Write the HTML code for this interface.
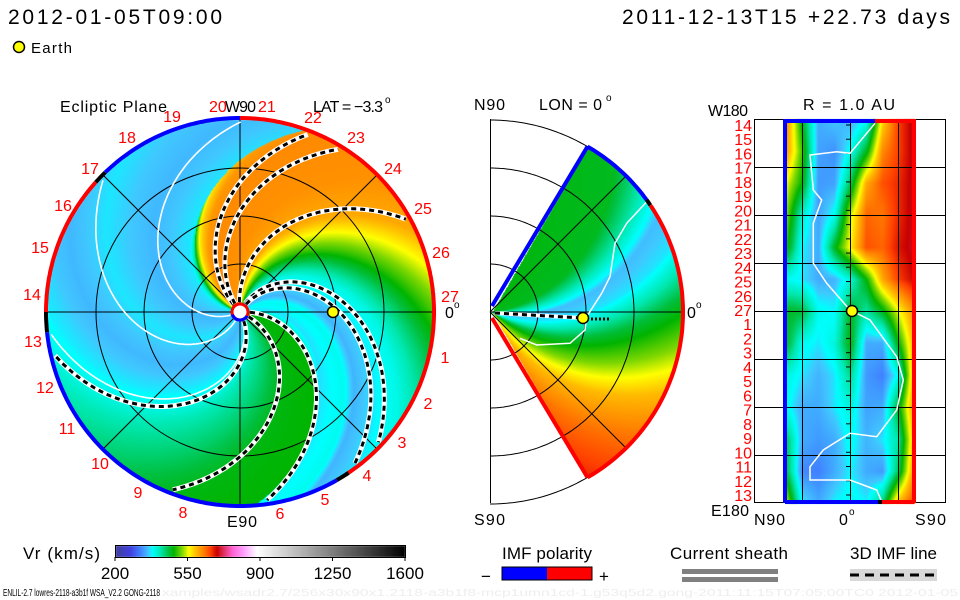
<!DOCTYPE html>
<html><head><meta charset="utf-8">
<style>
body{margin:0;background:#fff;width:960px;height:600px;overflow:hidden;position:relative}
canvas,svg{position:absolute;left:0;top:0}
text{font-family:"Liberation Sans",sans-serif}
</style></head>
<body>
<canvas id="cv" width="960" height="600"></canvas>
<svg id="ov" width="960" height="600" xmlns="http://www.w3.org/2000/svg">
  <text x="8" y="24" font-size="21" textLength="214">2012-01-05T09:00</text>
  <text x="950" y="24" font-size="21" text-anchor="end" textLength="328">2011-12-13T15 +22.73 days</text>
  <circle cx="19" cy="47" r="5.5" fill="#ffff00" stroke="#000" stroke-width="1.5"/>
  <text x="31" y="53" font-size="15" textLength="41">Earth</text>

  <text x="60" y="112" font-size="16" textLength="107">Ecliptic Plane</text>
  <text x="209" y="112" font-size="16" fill="#f00">20</text>
  <text x="225" y="112" font-size="16" textLength="31">W90</text>
  <text x="258" y="112" font-size="16" fill="#f00">21</text>
  <text x="313" y="112" font-size="16" textLength="70">LAT = −3.3</text>
  <text x="385" y="103" font-size="10">o</text>
  <text x="445" y="318" font-size="16">0</text>
  <text x="454" y="308" font-size="10">o</text>
  <text x="227" y="527" font-size="16" textLength="30">E90</text>

  <text x="474" y="110" font-size="16" textLength="31">N90</text>
  <text x="539" y="110" font-size="16" textLength="63">LON = 0</text>
  <text x="606" y="101" font-size="10">o</text>
  <text x="474" y="525" font-size="16" textLength="31">S90</text>
  <text x="687" y="318" font-size="16">0</text>
  <text x="696" y="308" font-size="10">o</text>

  <text x="708" y="116" font-size="16" textLength="40">W180</text>
  <text x="803" y="110" font-size="16" textLength="92">R = 1.0 AU</text>
  <text x="711" y="516" font-size="16" textLength="38">E180</text>
  <text x="754" y="525" font-size="16" textLength="31">N90</text>
  <text x="839" y="525" font-size="16">0</text>
  <text x="849" y="515" font-size="10">o</text>
  <text x="915" y="525" font-size="16" textLength="31">S90</text>

  <text x="23" y="559" font-size="17" textLength="77">Vr (km/s)</text>
  <rect x="115.5" y="545.5" width="290" height="12" fill="none" stroke="#000"/>
  <text x="502" y="559" font-size="17" textLength="90">IMF polarity</text>
  <text x="481" y="582" font-size="17">−</text>
  <rect x="502" y="567" width="45" height="13" fill="#0000ff"/>
  <rect x="547" y="567" width="45" height="13" fill="#ff0000"/>
  <rect x="502" y="567" width="90" height="13" fill="none" stroke="#000"/>
  <text x="599" y="582" font-size="17">+</text>
  <text x="670" y="559" font-size="17" textLength="118">Current sheath</text>
  <rect x="682" y="569" width="96" height="5" fill="#808080"/>
  <rect x="682" y="577" width="96" height="5" fill="#808080"/>
  <text x="850" y="559" font-size="17" textLength="87">3D IMF line</text>
  <rect x="850" y="569" width="87" height="12" fill="#d8d8d8"/>
  <line x1="850" y1="575" x2="937" y2="575" stroke="#000" stroke-width="3" stroke-dasharray="9 6"/>
  <text x="3" y="596" font-size="10" textLength="157" lengthAdjust="spacingAndGlyphs">ENLIL-2.7 lowres-2118-a3b1f WSA_V2.2 GONG-2118</text>
  <text x="162" y="596" font-size="10" fill="#eeeeee" textLength="796" lengthAdjust="spacingAndGlyphs">xamples/wsadr2.7/256x30x90x1.2118-a3b1f8-mcp1umn1cd-1.g53q5d2.gong-2011:11:15T07:05:00TC0    2012-01-05</text>
</svg>
<script>
// ---------- data ----------
const cbSpeeds=[200,272,320,361,377,417,457,482,522,554,586,626,659,690,723,763,819,884,1600];
const cbColors=['#404098','#4040e0','#4080ff','#40c8ff','#00ffff','#00e8b0','#00c040','#00b400','#80d800','#ffff00','#ffc000','#ff8000','#ff4000','#c80000','#e03060','#ff60d0','#ffa0ff','#ffffff','#000000'];
const cbTicks=[200,550,900,1250,1600];
// ecliptic: solar-wind speed by source longitude (deg)
const srcLon=[-180,-150,-120,-90,-70,-62,-55,-40,-30,-22,-10,5,10,20,35,50,62,70,76,82,88,94,110,135,142,150,158,166,175,180];
const srcSpeed=[368,352,370,352,372,390,415,440,460,475,480,482,400,368,385,350,378,390,440,500,550,600,615,620,610,570,500,420,370,368];
const sheathLon=[135,125,97,64,58,3,-24,-62];
const whiteLon=[205,-112,-66];
// meridional slice: speed vs effective latitude
const latEff=[-90,-75,-60,-45,-30,-15,0,10,20,30,90];
const latSpeed=[690,660,630,590,520,460,370,355,420,470,480];
// 1 AU lat-lon map: rows lon 180..-180 step 30, cols lat N60..S60 step 15
const mapLat=[60,45,30,15,0,-15,-30,-45,-60];
const mapLon=[180,150,120,90,60,30,0,-30,-60,-90,-120,-150,-180];
const mapSpeed=[
[620,470,345,360,345,375,570,660,700],
[610,500,340,330,385,470,620,660,700],
[550,480,335,340,450,600,650,670,700],
[520,400,340,385,540,640,630,670,700],
[490,375,345,470,560,650,640,680,700],
[385,370,345,350,395,480,600,660,690],
[470,460,385,375,470,420,470,550,620],
[470,385,370,395,480,345,345,480,600],
[395,370,350,370,430,335,320,385,610],
[385,345,345,370,395,340,345,470,620],
[450,345,335,345,385,350,370,420,600],
[460,325,320,345,375,345,335,450,620],
[540,375,345,375,385,375,440,600,660]];
const earth={lonDeg:0,rAU:1.0};

// ---------- helpers ----------
const rgb=cbColors.map(h=>[parseInt(h.slice(1,3),16),parseInt(h.slice(3,5),16),parseInt(h.slice(5,7),16)]);
function colorFor(v){
  if(v<=cbSpeeds[0])return rgb[0];
  for(let i=1;i<cbSpeeds.length;i++){if(v<=cbSpeeds[i]){const t=(v-cbSpeeds[i-1])/(cbSpeeds[i]-cbSpeeds[i-1]);const a=rgb[i-1],b=rgb[i];return [a[0]+(b[0]-a[0])*t,a[1]+(b[1]-a[1])*t,a[2]+(b[2]-a[2])*t];}}
  return rgb[rgb.length-1];
}
function interp(xs,ys,x){
  if(x<=xs[0])return ys[0];
  for(let i=1;i<xs.length;i++){if(x<=xs[i]){const t=(x-xs[i-1])/(xs[i]-xs[i-1]);return ys[i-1]+(ys[i]-ys[i-1])*t;}}
  return ys[ys.length-1];
}
function vAt(psi){let p=((psi+180)%360+360)%360-180;return interp(srcLon,srcSpeed,p);}
const C=215;
const ECX=240,ECY=312,ER=193,AU=96;
const MCX=492,MCY=312,MR=190;
const cv=document.getElementById('cv');const ctx=cv.getContext('2d');
const img=ctx.createImageData(960,600);const D=img.data;
for(let i=0;i<D.length;i+=4){D[i]=D[i+1]=D[i+2]=255;D[i+3]=255;}
function put(x,y,c){const i=(y*960+x)*4;D[i]=c[0];D[i+1]=c[1];D[i+2]=c[2];}
for(let y=ECY-ER;y<=ECY+ER;y++)for(let x=ECX-ER;x<=ECX+ER;x++){
  const dx=x-ECX,dy=ECY-y,r=Math.hypot(dx,dy);if(r>ER||r<9)continue;
  const phi=Math.atan2(dy,dx)*180/Math.PI;
  let lo=phi+C*r/700,hi=phi+C*r/330;
  for(let k=0;k<16;k++){const m=(lo+hi)/2;const g=m-phi-C*r/vAt(m);if(g<0)lo=m;else hi=m;}
  put(x,y,colorFor(vAt((lo+hi)/2)));
}
for(let y=MCY-MR;y<=MCY+MR;y++)for(let x=MCX;x<=MCX+MR;x++){
  const dx=x-MCX,dy=MCY-y,r=Math.hypot(dx,dy);if(r>MR)continue;
  const th=Math.atan2(dy,dx)*180/Math.PI;if(Math.abs(th)>60)continue;
  const te=th-(-20+40*r/MR);
  put(x,y,colorFor(interp(latEff,latSpeed,te)));
}
const MX0=786,MX1=914,MY0=119,MY1=503;
for(let y=MY0;y<=MY1;y++)for(let x=MX0;x<=MX1;x++){
  const gx=(x-MX0)/(MX1-MX0)*(mapLat.length-1),gy=(y-MY0)/(MY1-MY0)*(mapLon.length-1);
  const i0=Math.min(Math.floor(gx),mapLat.length-2),j0=Math.min(Math.floor(gy),mapLon.length-2);
  const tx=gx-i0,ty=gy-j0;
  const v=(mapSpeed[j0][i0]*(1-tx)+mapSpeed[j0][i0+1]*tx)*(1-ty)+(mapSpeed[j0+1][i0]*(1-tx)+mapSpeed[j0+1][i0+1]*tx)*ty;
  put(x,y,colorFor(v));
}
const cbX=s=>115+(s-200)/(1600-200)*290;
for(let x=116;x<405;x++){const s=200+(x-115)/290*1400;const c=colorFor(s);for(let y=546;y<557;y++)put(x,y,c);}
ctx.putImageData(img,0,0);

// ---------- overlay ----------
const NS='http://www.w3.org/2000/svg';const svg=document.getElementById('ov');
function el(tag,attrs){const e=document.createElementNS(NS,tag);for(const k in attrs)e.setAttribute(k,attrs[k]);svg.appendChild(e);return e;}
function polar(cx,cy,r,a){return [cx+r*Math.cos(a*Math.PI/180),cy-r*Math.sin(a*Math.PI/180)];}
function arcPath(cx,cy,r,a0,a1){let d='';for(let a=a0;a<=a1+1e-6;a+=1){const p=polar(cx,cy,r,Math.min(a,a1));d+=(d?'L':'M')+p[0].toFixed(1)+' '+p[1].toFixed(1);}return d;}

cbTicks.forEach(s=>{
  const t=el('line',{x1:cbX(s),y1:557,x2:cbX(s),y2:561,stroke:'#000'});
  
  
  const l=el('text',{x:cbX(s),y:579,'font-size':17,'text-anchor':'middle'});l.textContent=String(s);
  
  
});

[48,96,144].forEach(r=>{
  const c=el('circle',{cx:ECX,cy:ECY,r:r,fill:'none',stroke:'#000','stroke-width':1});
  
  
});
[0,45,90,135].forEach(a=>{
  const p=polar(ECX,ECY,ER,a),q=polar(ECX,ECY,ER,a+180);
  const l=el('line',{x1:p[0],y1:p[1],x2:q[0],y2:q[1],stroke:'#000','stroke-width':1});
  
  
});
function spiralPath(psi){const k=C/vAt(psi);let d='';for(let r=10;r<=ER-2;r+=2){const p=polar(ECX,ECY,r,psi-k*r);d+=(d?'L':'M')+p[0].toFixed(1)+' '+p[1].toFixed(1);}return d;}
whiteLon.forEach(psi=>{
  const p=el('path',{d:spiralPath(psi),fill:'none',stroke:'#fff','stroke-width':1.6});
  
  
});
sheathLon.forEach(psi=>{
  const w=el('path',{d:spiralPath(psi),fill:'none',stroke:'#fff','stroke-width':5});
  
  
  const b=el('path',{d:spiralPath(psi),fill:'none',stroke:'#000','stroke-width':3,'stroke-dasharray':'5 4'});
  
  
});
const rimSeg=[[-57,90,'#ff0000'],[90,134,'#0000ff'],[134,138,'#000'],[138,180,'#ff0000'],[180,186,'#000'],[186,300,'#0000ff'],[300,304,'#000']];
rimSeg.forEach(s=>{
  const p=el('path',{d:arcPath(ECX,ECY,ER+1,s[0],s[1]),fill:'none',stroke:s[2],'stroke-width':4});
  
  
});
const sr=el('circle',{cx:ECX,cy:ECY,r:8,fill:'#fff',stroke:'#ff0000','stroke-width':3});


const sb=el('path',{d:arcPath(ECX,ECY,8,200,330),fill:'none',stroke:'#0000ff','stroke-width':3});


const rimLabels=[['22',313,117],['23',356,137],['24',393,168],['25',423,208],['26',441,252],['27',450,296],['1',445,357],['2',428,403],['3',402,442],['4',367,475],['5',325,499],['6',280,513],['8',183,512],['9',138,492],['10',100,463],['11',67,428],['12',45,387],['13',33,341],['14',32,294],['15',40,247],['16',63,205],['17',90,168],['18',127,137],['19',172,116]];
rimLabels.forEach(L=>{
  const t=el('text',{x:L[1],y:L[2]+6,'font-size':16,fill:'#f00','text-anchor':'middle'});t.textContent=L[0];
  
  
});
const ep=polar(ECX,ECY,earth.rAU*AU-3,earth.lonDeg);
const e1=el('circle',{cx:ep[0],cy:ep[1],r:5.5,fill:'#ffff00',stroke:'#000','stroke-width':1.5});



const ml=el('line',{x1:490.5,y1:119,x2:490.5,y2:503,stroke:'#000'});


[48,96,144,192].forEach(r=>{
  const p=el('path',{d:arcPath(490,MCY,r,-90,90),fill:'none',stroke:'#000'});
  
  
});
[45,0,-45].forEach(a=>{
  const q=polar(490,MCY,192,a);
  const l=el('line',{x1:490,y1:MCY,x2:q[0],y2:q[1],stroke:'#000'});
  
  
});
const mpts=[[530,335],[470,400],[435,460],[420,560],[395,610],[350,680],[345,720],[300,760],[200,765],[150,745]];
const mw=el('path',{d:mpts.map((p,i)=>(i?'L':'M')+(470+p[0]/3).toFixed(1)+' '+(90+p[1]/3).toFixed(1)).join(''),fill:'none',stroke:'#fff','stroke-width':1.5});


const mEdges=[[arcPath(MCX,MCY,MR+1,36,60),'#0000ff'],[arcPath(MCX,MCY,MR+1,34,36),'#000'],[arcPath(MCX,MCY,MR+1,-60,34),'#ff0000']];
mEdges.forEach(s=>{
  const p=el('path',{d:s[0],fill:'none',stroke:s[1],'stroke-width':4});
  
  
});
const tp=polar(MCX,MCY,MR+1,60),bp=polar(MCX,MCY,MR+1,-60);
const te=el('line',{x1:MCX,y1:MCY-6,x2:tp[0],y2:tp[1],stroke:'#0000ff','stroke-width':4});


const be=el('line',{x1:MCX,y1:MCY+6,x2:bp[0],y2:bp[1],stroke:'#ff0000','stroke-width':4});


const imf1=el('line',{x1:495,y1:313,x2:583,y2:318,stroke:'#fff','stroke-width':4});


const imf2=el('line',{x1:495,y1:313,x2:583,y2:318,stroke:'#000','stroke-width':3,'stroke-dasharray':'5 4'});


const imf3=el('line',{x1:583,y1:319,x2:610,y2:319,stroke:'#000','stroke-width':3,'stroke-dasharray':'2 2'});


const e2=el('circle',{cx:583,cy:318,r:5.5,fill:'#ffff00',stroke:'#000','stroke-width':1.5});



const fr=el('rect',{x:754.5,y:119.5,width:191,height:383,fill:'none',stroke:'#000'});


[802,850,898].forEach(x=>{
  const l=el('line',{x1:x+.5,y1:119,x2:x+.5,y2:503,stroke:'#000'});
  
  
});
[167,215,263,311,359,407,455].forEach(y=>{
  const l=el('line',{x1:754,y1:y+.5,x2:946,y2:y+.5,stroke:'#000'});
  
  
});
const dayRows=['14','15','16','17','18','19','20','21','22','23','24','25','26','27','1','2','3','4','5','6','7','8','9','10','11','12','13'];
dayRows.forEach((d,i)=>{
  const y=125+i*14.23;
  const t=el('text',{x:752,y:y+6,'font-size':16,fill:'#f00','text-anchor':'end'});t.textContent=d;
  
  
  const k=el('line',{x1:846,y1:y,x2:850,y2:y,stroke:'#000'});
  
  
});
const rpts=[[1215,100],[1140,190],[1100,185],[1020,195],[1030,300],[1055,330],[1030,400],[1030,520],[1070,580],[1140,660],[1200,690],[1280,800],[1300,870],[1280,960],[1220,1040],[1140,1030],[1060,1080],[1020,1130],[1020,1170],[1140,1170],[1220,1200],[1235,1235]];
const rw=el('path',{d:rpts.map((p,i)=>(i?'L':'M')+(470+p[0]/3).toFixed(1)+' '+(90+p[1]/3).toFixed(1)).join(''),fill:'none',stroke:'#fff','stroke-width':1.5});


const mapEdges=[[785,119,785,503,'#0000ff'],[914,119,914,503,'#ff0000'],[785,121,875,121,'#0000ff'],[875,121,914,121,'#ff0000'],[785,502,878,502,'#0000ff'],[878,502,882,502,'#000'],[882,502,914,502,'#ff0000']];
mapEdges.forEach(s=>{
  const l=el('line',{x1:s[0],y1:s[1],x2:s[2],y2:s[3],stroke:s[4],'stroke-width':4});
  
  
});
const e3=el('circle',{cx:852,cy:311,r:5.5,fill:'#ffff00',stroke:'#000','stroke-width':1.5});


</script>
</body></html>
